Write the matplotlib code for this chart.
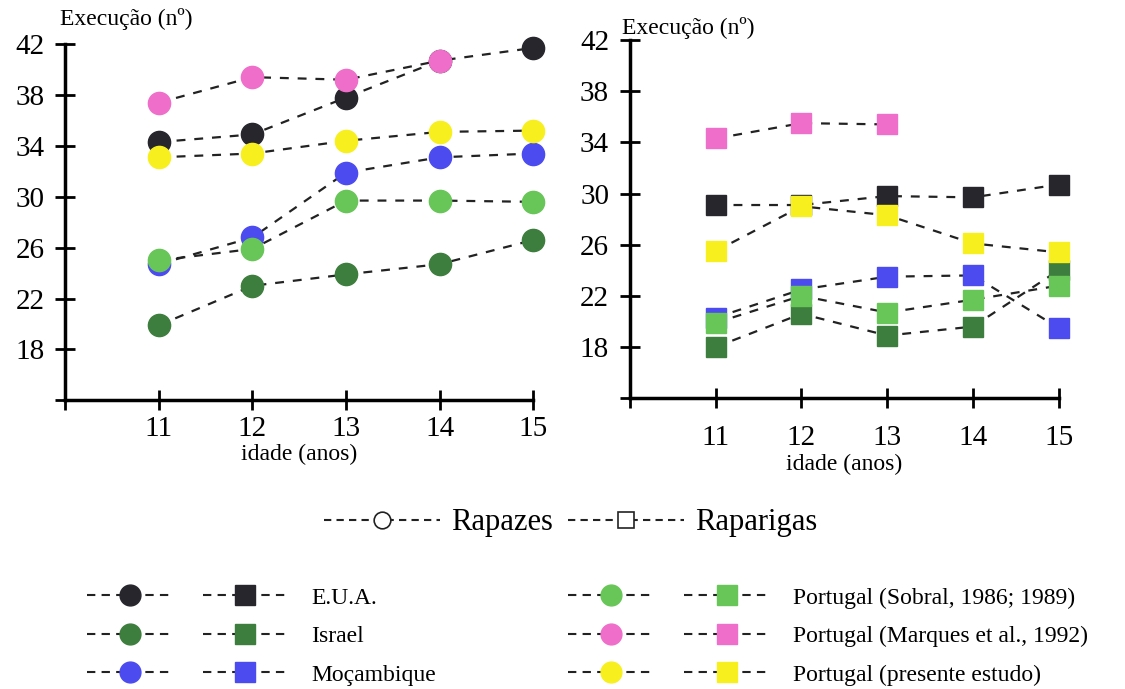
import numpy as np
import matplotlib
matplotlib.use("Agg")
import matplotlib.pyplot as plt
from matplotlib.lines import Line2D
from matplotlib.legend_handler import HandlerTuple

plt.rcParams["font.family"] = ["Liberation Serif", "DejaVu Serif"]

idade = [11, 12, 13, 14, 15]
grupos = ["E.U.A.", "Israel", "Moçambique",
          "Portugal (Sobral, 1986; 1989)",
          "Portugal (Marques et al., 1992)",
          "Portugal (presente estudo)"]

# rapazes (boys)
rap_eua = [34.3, 34.9, 37.8, 40.7, 41.7]
rap_israel = [19.9, 23.0, 23.9, 24.7, 26.6]
rap_moc = [24.7, 26.8, 31.9, 33.1, 33.4]
rap_sobral = [25.0, 25.9, 29.7, 29.7, 29.6]
rap_marques = [37.4, 39.4, 39.2, 40.7, np.nan]
rap_presente = [33.1, 33.4, 34.4, 35.1, 35.2]

# raparigas (girls)
rpg_eua = [29.1, 29.1, 29.8, 29.7, 30.7]
rpg_israel = [18.0, 20.6, 18.9, 19.6, 24.0]
rpg_moc = [20.3, 22.5, 23.5, 23.6, 19.5]
rpg_sobral = [19.9, 22.0, 20.7, 21.7, 22.8]
rpg_marques = [34.3, 35.5, 35.4, np.nan, np.nan]
rpg_presente = [25.5, 29.0, 28.3, 26.1, 25.4]

cores = ["#26262c", "#3d7d3d", "#4b4bf0", "#68c658", "#ef6ec9", "#f7f01e"]

rapazes = [rap_eua, rap_israel, rap_moc, rap_sobral, rap_marques, rap_presente]
raparigas = [rpg_eua, rpg_israel, rpg_moc, rpg_sobral, rpg_marques, rpg_presente]

fig = plt.figure(figsize=(11.25, 6.89), dpi=100)
ax1 = fig.add_axes([0.058, 0.419, 0.416, 0.517])
ax2 = fig.add_axes([0.56, 0.422, 0.381, 0.52])


def desenha(ax, series, marker, ms, xpad):
    x = np.array(idade)
    for vals, cor in zip(series, cores):
        y = np.array(vals, dtype=float)
        ok = ~np.isnan(y)
        ax.plot(x[ok], y[ok], color="#222222", lw=1.6, dashes=(4, 4),
                zorder=2, clip_on=False)
        ax.plot(x[ok], y[ok], ls="none", marker=marker, ms=ms,
                mfc=cor, mec=cor, zorder=3, clip_on=False)
    ax.set_xlim(10, 15)
    ax.set_ylim(14, 42)
    ax.set_xticks([10, 11, 12, 13, 14, 15])
    ax.set_xticklabels(["", "11", "12", "13", "14", "15"])
    ax.set_yticks([14, 18, 22, 26, 30, 34, 38, 42])
    ax.set_yticklabels(["", "18", "22", "26", "30", "34", "38", "42"])
    for s in ["top", "right"]:
        ax.spines[s].set_visible(False)
    for s in ["left", "bottom"]:
        ax.spines[s].set_linewidth(2.5)
    ax.tick_params(direction="inout", length=14, width=2, labelsize=21)
    ax.tick_params(axis="y", pad=8)
    ax.tick_params(axis="x", pad=xpad)
    ax.set_xlabel("idade (anos)", fontsize=17, labelpad=2)


desenha(ax1, rapazes, "o", 16, 4)
desenha(ax2, raparigas, "s", 15, 12)

fig.text(0.053, 0.973, "Execução (nº)", fontsize=17, va="center", ha="left")
fig.text(0.553, 0.96, "Execução (nº)", fontsize=17, va="center", ha="left")

# legenda sexo
h_rap = Line2D([], [], color="#222222", lw=1.5, dashes=(3.5, 2.5),
               marker="o", ms=12, mfc="white", mec="#222222", mew=1.2)
h_rpg = Line2D([], [], color="#222222", lw=1.5, dashes=(3.5, 2.5),
               marker="s", ms=12, mfc="white", mec="#222222", mew=1.2)
leg1 = fig.legend([h_rap, h_rpg], ["Rapazes", "Raparigas"], ncol=2,
                  loc="center", bbox_to_anchor=(0.507, 0.241),
                  frameon=False, fontsize=22, handlelength=3.8,
                  handletextpad=0.35, columnspacing=0.5, borderpad=0)

# legenda grupos
handles = []
for cor in cores:
    c = Line2D([], [], color="#222222", lw=1.5, dashes=(4, 3),
               marker="o", ms=15, mfc=cor, mec=cor)
    q = Line2D([], [], color="#222222", lw=1.5, dashes=(4, 3),
               marker="s", ms=15, mfc=cor, mec=cor)
    handles.append((c, q))
leg2 = fig.legend(handles, grupos, ncol=2, loc="upper left",
                  bbox_to_anchor=(0.067, 0.165), frameon=False, fontsize=17,
                  handlelength=8.5, handletextpad=1.0, columnspacing=5.6,
                  labelspacing=0.72, borderpad=0,
                  handler_map={tuple: HandlerTuple(ndivide=None, pad=1.3)})

fig.savefig("out.png", dpi=100)
